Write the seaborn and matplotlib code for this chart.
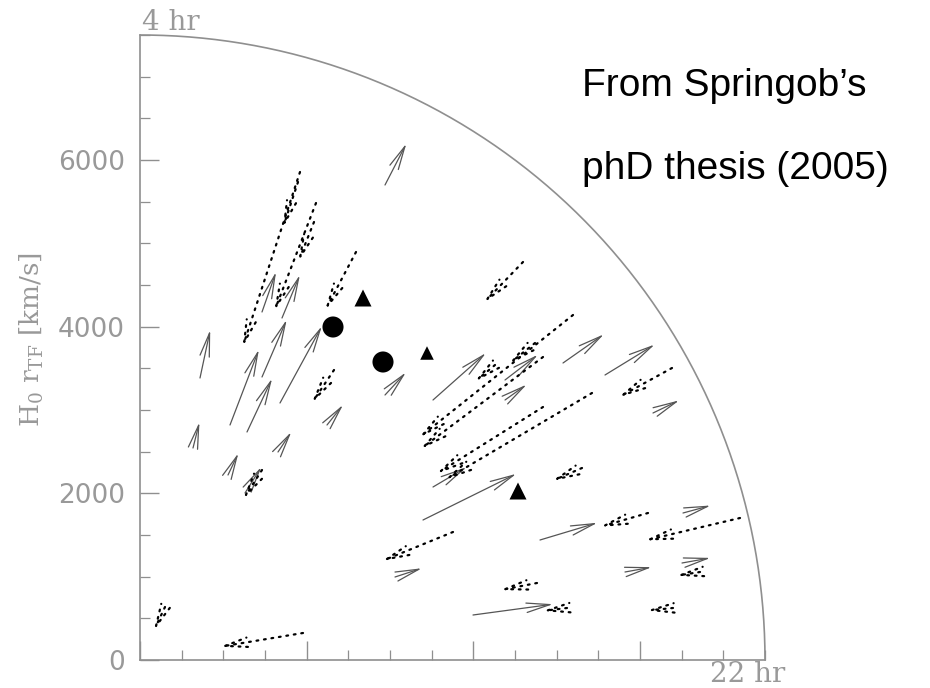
import numpy as np
import pandas as pd
import matplotlib
matplotlib.use("Agg")
import matplotlib.pyplot as plt
import seaborn as sns

# ---------------- data (km/s) ----------------
# galaxy positions (tail of arrow) and radial peculiar velocity
solid_x = [2940, 720, 1080, 1284, 1464, 1704, 1680, 2244, 1656, 636, 1056, 1260, 1464,
           2940, 3516, 4380, 4380, 5076, 5580, 6156, 3396, 3516, 3060, 4800, 3996,
           6516, 5820, 6504]
solid_y = [5700, 3384, 2820, 2736, 3396, 4104, 3084, 2820, 2496, 2544, 2220, 2004, 4176,
           3180, 3120, 3360, 3120, 3564, 3420, 2964, 1680, 2076, 996, 1440, 540,
           1764, 1056, 1164]
solid_v = [560, 590, 970, 710, 750, 560, 1050, 310, 290, 320, 290, 370, 510,
           370, 850, 500, 320, 600, 700, 350, 1250, 470, 340, 720, 970,
           345, 326, 348]

dotted_x = [1920, 2112, 1896, 2088, 2592, 2328, 1464, 5196, 4740, 4260, 4836, 5424,
            4836, 6384, 5304, 3756, 6096, 4764, 5124, 7200, 6720, 6396, 300, 1956, 4596]
dotted_y = [5856, 5484, 5736, 5256, 4896, 3480, 2280, 4140, 3804, 3540, 3636, 3204,
            3036, 3504, 2304, 1536, 1764, 924, 624, 1704, 1056, 624, 636, 324, 4776]
dotted_v = [-2210, -1390, -580, -510, -790, -480, -420, -2360, -400, -316, -1840, -2050,
            -1510, -730, -390, -920, -600, -450, -296, -1170, -290, -318, -316, -1010, -680]

# clusters / groups
mark_x = [2316, 2916, 2676, 3444, 4536]
mark_y = [3996, 3576, 4344, 3684, 2028]
mark_kind = ["circle", "circle", "triangle", "triangle_small", "triangle"]

y_ticks = [0, 2000, 4000, 6000]
R_EDGE = 7500

# ---------------- figure ----------------
sns.set_style("ticks")
plt.rcParams["font.family"] = ["DejaVu Sans"]
plt.rcParams["mathtext.fontset"] = "dejavuserif"

fig = plt.figure(figsize=(9.30, 6.88), dpi=100)
ax = fig.add_axes([140 / 930, 28 / 688, 625 / 930, 625 / 688])
ax.set_xlim(0, R_EDGE)
ax.set_ylim(0, R_EDGE)

grey = "#8f8f8f"

def draw_arrows(xs, ys, vs, style):
    for x0, y0, v in zip(xs, ys, vs):
        r = np.hypot(x0, y0)
        ux, uy = x0 / r, y0 / r
        x1, y1 = x0 + v * ux, y0 + v * uy
        if style == "solid":
            props = dict(arrowstyle="->,head_length=1.7,head_width=0.34",
                         color="#555555", lw=0.9, shrinkA=0, shrinkB=0,
                         mutation_scale=10)
        else:
            props = dict(arrowstyle="->,head_length=1.6,head_width=0.34",
                         color="black", lw=1.6, linestyle=(0, (0.8, 2.6)),
                         capstyle="round", shrinkA=0, shrinkB=0, mutation_scale=10)
        ax.annotate("", xy=(x1, y1), xytext=(x0, y0), arrowprops=props)

draw_arrows(solid_x, solid_y, solid_v, "solid")
draw_arrows(dotted_x, dotted_y, dotted_v, "dotted")

df = pd.DataFrame({"x": mark_x, "y": mark_y, "kind": mark_kind})
size_map = {"circle": 230, "triangle": 150, "triangle_small": 95}
df["s"] = df["kind"].map(size_map)
sns.scatterplot(data=df, x="x", y="y", style="kind", size="s",
                sizes=(95, 230),
                markers={"circle": "o", "triangle": "^", "triangle_small": "^"},
                color="black", edgecolor="none", legend=False, ax=ax)

# outer arc
th = np.linspace(0, np.pi / 2, 300)
ax.plot(R_EDGE * np.cos(th), R_EDGE * np.sin(th), color=grey, lw=1.2, clip_on=False)

# axes styling
for side in ["top", "right"]:
    ax.spines[side].set_visible(False)
for side in ["left", "bottom"]:
    ax.spines[side].set_color(grey)
    ax.spines[side].set_linewidth(1.2)

ax.set_xticks(y_ticks)
ax.set_xticks(np.arange(0, R_EDGE + 1, 500), minor=True)
ax.set_yticks(y_ticks)
ax.set_yticks(np.arange(0, R_EDGE + 1, 500), minor=True)
ax.set_xticklabels([])
ax.set_yticklabels([str(t) for t in y_ticks])
ax.tick_params(which="major", direction="in", length=14, width=1.0, color=grey,
               labelsize=19, labelcolor="#999999", pad=11)
ax.tick_params(which="minor", direction="in", length=7, width=0.9, color=grey)
ax.set_xlabel("")
ax.set_ylabel("")

# texts
fig.text(32 / 930, 1 - 340 / 688, r"H$_0$ r$_{\rm TF}$ [km/s]", rotation=90,
         ha="center", va="center", fontsize=19, color="#999999", family="DejaVu Serif")
fig.text(142 / 930, 1 - 22 / 688, "4 hr", ha="left", va="center",
         fontsize=20, color="#999999", family="DejaVu Serif")
fig.text(710 / 930, 1 - 675 / 688, "22 hr", ha="left", va="center",
         fontsize=20, color="#999999", family="DejaVu Serif")
fig.text(582 / 930, 1 - 96 / 688, "From Springob\u2019s", ha="left", va="baseline",
         fontsize=28, color="black", family="Liberation Sans")
fig.text(582 / 930, 1 - 179 / 688, "phD thesis (2005)", ha="left", va="baseline",
         fontsize=28, color="black", family="Liberation Sans")

fig.savefig("out.png", dpi=100)
